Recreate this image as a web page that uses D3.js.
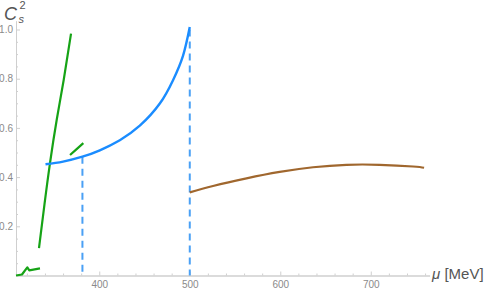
<!DOCTYPE html>
<html>
<head>
<meta charset="utf-8">
<script src="https://cdn.jsdelivr.net/npm/d3@7"></script>
<style>
  body { margin: 0; background: #fff; }
  svg { display: block; font-family: "Liberation Sans", "DejaVu Sans", sans-serif; }
</style>
</head>
<body>
<div id="chart"></div>
<script>
// data: [mu (MeV), C_s^2]
const greenLow = [[308, 0.0], [314.6, 0.004], [320.5, 0.033], [322.7, 0.021], [334.5, 0.029]];
const greenSteep = [[333.4, 0.111], [339.5, 0.29], [345.6, 0.458], [353, 0.633], [360.7, 0.795], [368.8, 0.983]];
const greenShort = [[367.7, 0.49], [375, 0.514], [382.4, 0.538]];
const blueCurve = [[340.6, 0.452], [360, 0.463], [381.4, 0.483], [400.6, 0.509], [422.7, 0.55],
  [444.8, 0.609], [466.9, 0.699], [481.5, 0.794], [492.6, 0.894], [500, 1.01]];
const brownCurve = [[500, 0.338], [525.7, 0.364], [562.7, 0.395], [599.4, 0.421], [636.2, 0.44],
  [673.1, 0.45], [709.9, 0.45], [746.7, 0.443], [758.9, 0.438]];
const dashedLines = [[381.4, 0.483], [500, 1.0]];
const xMajor = [400, 500, 600, 700];
const yMajor = [0.2, 0.4, 0.6, 0.8, 1.0];

const width = 491, height = 290;
const x = d3.scaleLinear().domain([308, 765]).range([16, 429.6]);
const y = d3.scaleLinear().domain([0, 1.035]).range([275.5, 20.9]);

const svg = d3.select('#chart').append('svg')
  .attr('width', width)
  .attr('height', height);

// minor ticks
const xMinor = d3.range(320, 761, 20).filter(v => v % 100 !== 0);
const yMinor = d3.range(0.05, 1.01, 0.05).filter(v => Math.abs(v * 5 - Math.round(v * 5)) > 1e-6);

const axisColor = '#cfcfcf';

svg.append('g').attr('transform', `translate(0,${y(0)})`)
  .call(d3.axisBottom(x).tickValues(xMajor).tickSizeInner(-4).tickSizeOuter(0).tickPadding(5));
svg.append('g').attr('transform', `translate(0,${y(0)})`)
  .call(d3.axisBottom(x).tickValues(xMinor).tickSizeInner(-2).tickSizeOuter(0).tickFormat(''));

svg.append('g').attr('transform', `translate(${x(308)},0)`)
  .call(d3.axisLeft(y).tickValues(yMajor).tickSizeInner(-4).tickSizeOuter(0).tickPadding(3)
    .tickFormat(d3.format('.1f')));
svg.append('g').attr('transform', `translate(${x(308)},0)`)
  .call(d3.axisLeft(y).tickValues(yMinor).tickSizeInner(-2).tickSizeOuter(0).tickFormat(''));

svg.selectAll('.domain').attr('stroke', axisColor);
svg.selectAll('.tick line').attr('stroke', axisColor);
svg.selectAll('.tick text').attr('fill', '#8a8a8a').style('font-size', '10px');

// dashed verticals
svg.selectAll('.dash').data(dashedLines).enter().append('line')
  .attr('x1', d => x(d[0])).attr('x2', d => x(d[0]))
  .attr('y1', d => y(d[1])).attr('y2', y(0))
  .attr('stroke', '#4aa0f5')
  .attr('stroke-width', 2)
  .attr('stroke-dasharray', '7,5');

const line = d3.line().x(d => x(d[0])).y(d => y(d[1]));
const smooth = d3.line().x(d => x(d[0])).y(d => y(d[1])).curve(d3.curveNatural);

const curves = [
  { data: greenLow, color: '#16a316', gen: line, w: 2.2 },
  { data: greenSteep, color: '#16a316', gen: smooth, w: 2.2 },
  { data: greenShort, color: '#16a316', gen: smooth, w: 2.2 },
  { data: blueCurve, color: '#1a8cff', gen: smooth, w: 2.4 },
  { data: brownCurve, color: '#a0672e', gen: smooth, w: 2.2 }
];
curves.forEach(c => {
  svg.append('path')
    .attr('d', c.gen(c.data))
    .attr('fill', 'none')
    .attr('stroke', c.color)
    .attr('stroke-width', c.w)
    .attr('stroke-linejoin', 'round');
});

// axis labels
svg.append('text').attr('x', 4).attr('y', 19.5).attr('fill', '#555')
  .style('font-size', '18px').style('font-style', 'italic').text('C');
svg.append('text').attr('x', 18.5).attr('y', 22.5).attr('fill', '#555')
  .style('font-size', '11px').style('font-style', 'italic').text('s');
svg.append('text').attr('x', 19.5).attr('y', 8.5).attr('fill', '#555')
  .style('font-size', '11px').text('2');

const mu = svg.append('text').attr('x', 432).attr('y', 279).attr('fill', '#555')
  .style('font-size', '15px');
mu.append('tspan').style('font-style', 'italic').text('μ');
mu.append('tspan').text(' [MeV]');
</script>
</body>
</html>
